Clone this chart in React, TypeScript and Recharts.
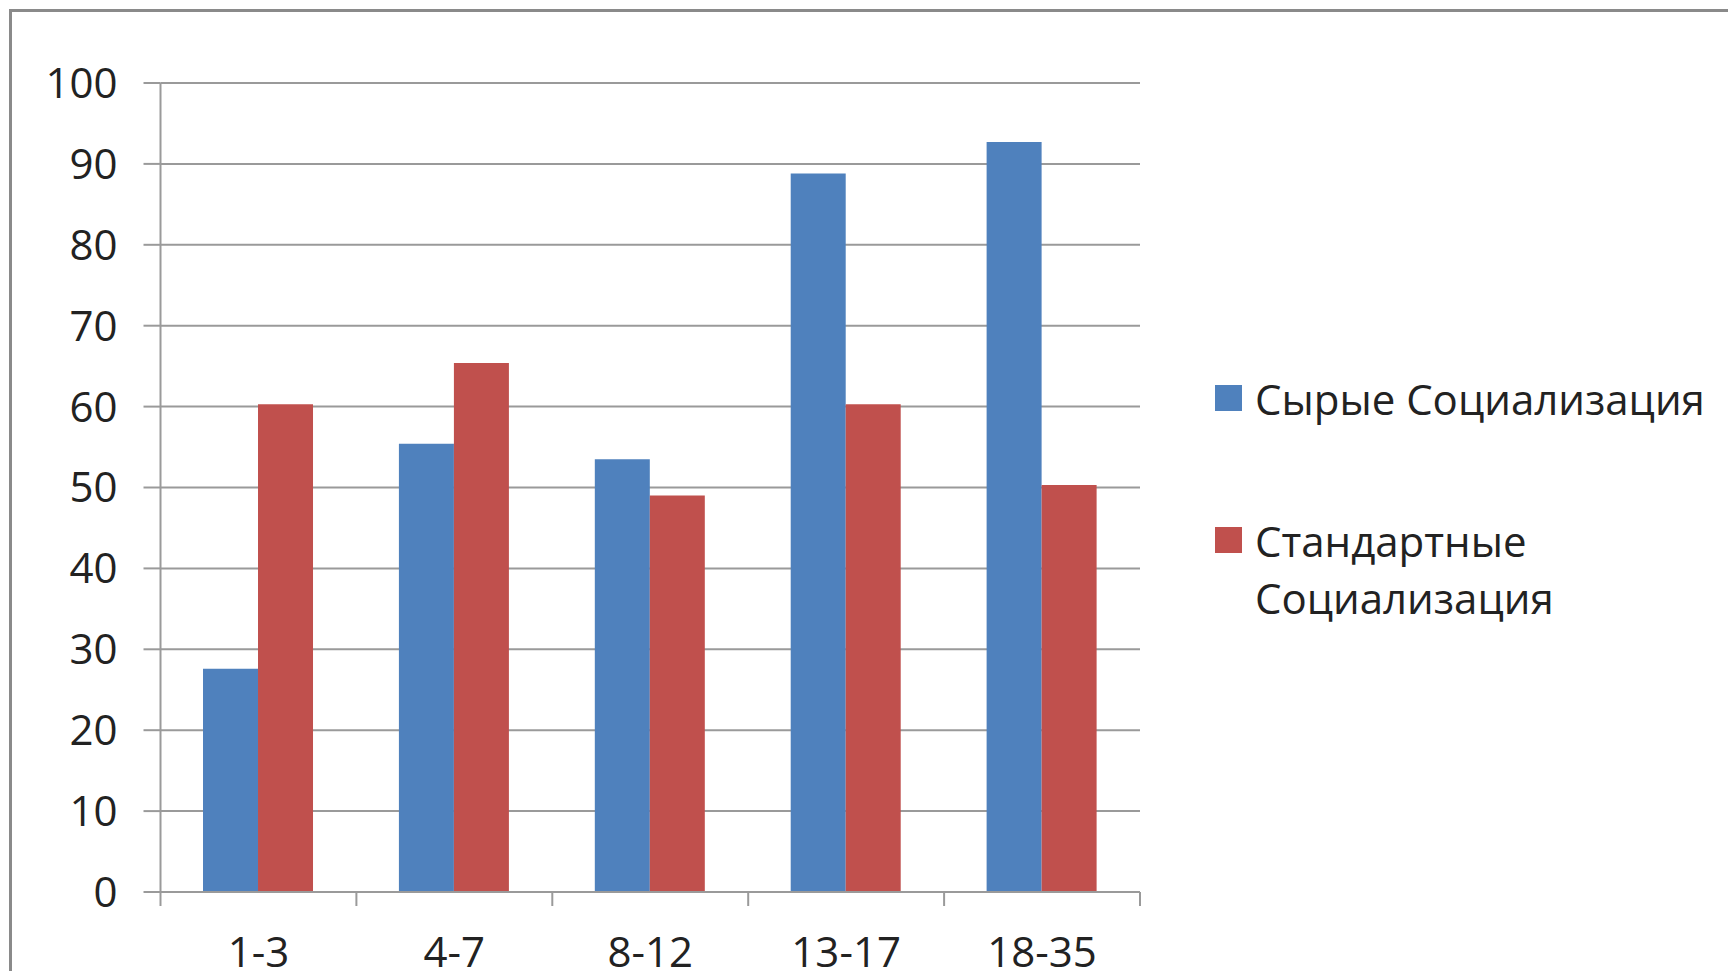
import { BarChart, Bar, XAxis, YAxis, CartesianGrid, Legend } from 'recharts';

const categories = ['1-3', '4-7', '8-12', '13-17', '18-35'];
const rawValues = [27.6, 55.4, 53.5, 88.8, 92.7];
const standardValues = [60.3, 65.4, 49.0, 60.3, 50.3];
const yTicks = [0, 10, 20, 30, 40, 50, 60, 70, 80, 90, 100];

const seriesNames = ['Сырые Социализация', 'Стандартные Социализация'];
const seriesColors = ['#4F81BD', '#C0504D'];

const data = categories.map((c, i) => ({
  name: c,
  raw: rawValues[i],
  standard: standardValues[i],
}));

const FONT = '"Open Sans", sans-serif';
const GRID = '#9a9a9a';

// category tick: Excel-style tick marks sit on the band edges, label in the middle
const CategoryTick = (props: any) => {
  const { x, y, payload, index } = props;
  const half = payload?.offset ?? 0;
  const last = index === categories.length - 1;
  return (
    <g>
      <line x1={x - half} x2={x - half} y1={y} y2={y + 14} stroke={GRID} strokeWidth={2} />
      {last && <line x1={x + half} x2={x + half} y1={y} y2={y + 14} stroke={GRID} strokeWidth={2} />}
      <text x={x} y={y + 45} dy="0.71em" textAnchor="middle" fill="#222" fontSize={42} fontFamily={FONT}>
        {payload.value}
      </text>
    </g>
  );
};

const LegendBox = () => (
  <div style={{ width: 520, fontFamily: FONT, fontSize: 42, color: '#222' }}>
    {seriesNames.map((n, i) => (
      <div key={n} style={{ display: 'flex', alignItems: 'flex-start', marginBottom: i === 0 ? 85 : 0 }}>
        <div style={{ width: 27, height: 26, marginTop: 15, background: seriesColors[i], flexShrink: 0 }} />
        <div style={{ marginLeft: 13, lineHeight: '57px', width: 470 }}>{n}</div>
      </div>
    ))}
  </div>
);

const App = () => {
  return (
    <div style={{ position: 'relative', width: 1728, height: 963, overflow: 'hidden', background: '#fff' }}>
      <div
        style={{
          position: 'absolute',
          left: 1,
          top: 1,
          width: 2000,
          height: 2000,
          border: '3px solid #8a8a8a',
        }}
      />
      <div style={{ position: 'absolute', left: 0, top: 0 }}>
        <BarChart
          width={1728}
          height={963}
          data={data}
          margin={{ top: 75, right: 76, bottom: 0, left: 0 }}
          barCategoryGap="21.7%"
          barGap={0}
        >
          <CartesianGrid vertical={false} stroke={GRID} strokeWidth={2} />
          <XAxis
            dataKey="name"
            tickLine={false}
            height={79}
            tickSize={0}
            tickMargin={0}
            stroke={GRID}
            strokeWidth={2}
            interval={0}
            tick={<CategoryTick />}
          />
          <YAxis
            domain={[0, 100]}
            ticks={yTicks}
            width={152.5}
            tickSize={17}
            tickMargin={26}
            stroke={GRID}
            strokeWidth={2}
            tick={{ fill: '#222', fontSize: 42, fontFamily: FONT }}
          />
          <Legend
            layout="vertical"
            align="right"
            verticalAlign="top"
            content={<LegendBox />}
            wrapperStyle={{ left: 1207, top: 362, width: 520 }}
          />
          <Bar dataKey="raw" name={seriesNames[0]} fill={seriesColors[0]} isAnimationActive={false} />
          <Bar dataKey="standard" name={seriesNames[1]} fill={seriesColors[1]} isAnimationActive={false} />
        </BarChart>
      </div>
    </div>
  );
};

export default App;
